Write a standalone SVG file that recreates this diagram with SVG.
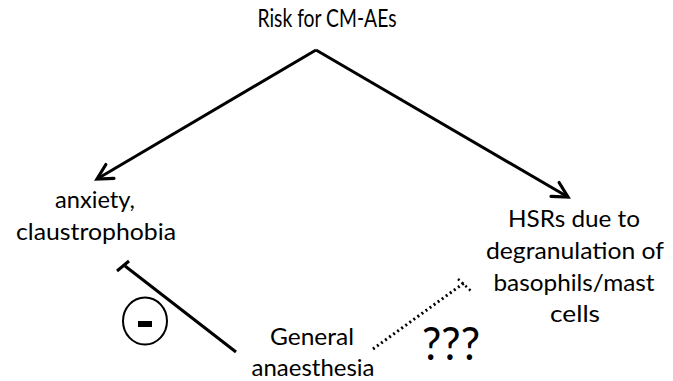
<svg xmlns="http://www.w3.org/2000/svg" width="673" height="381" viewBox="0 0 673 381">
<style>
text{font-family:Lato,"Liberation Sans",Arial,sans-serif;font-size:24px;fill:#000;text-anchor:middle}
.ln{stroke:#000;stroke-width:3;fill:none}
</style>
<defs>
<marker id="arr" viewBox="0 0 20 20" refX="17" refY="10" markerWidth="20" markerHeight="20" markerUnits="userSpaceOnUse" orient="auto">
<path d="M2,2 L17,10 L2,18" fill="none" stroke="#000" stroke-width="3.2" stroke-linecap="round" stroke-linejoin="miter"/>
</marker>
</defs>
<rect width="673" height="381" fill="#fff"/>
<g id="risk"><text x="327" y="27" style="font-size:25px" textLength="139" lengthAdjust="spacingAndGlyphs">Risk for CM-AEs</text></g>
<g id="anxiety"><text x="95" y="208" textLength="80" lengthAdjust="spacingAndGlyphs">anxiety,</text><text x="96" y="240" textLength="160" lengthAdjust="spacingAndGlyphs">claustrophobia</text></g>
<g id="hsr"><text x="574" y="227" textLength="132" lengthAdjust="spacingAndGlyphs">HSRs due to</text><text x="575" y="259" textLength="178" lengthAdjust="spacingAndGlyphs">degranulation of</text><text x="574" y="291" textLength="161" lengthAdjust="spacingAndGlyphs">basophils/mast</text><text x="575" y="322" textLength="50" lengthAdjust="spacingAndGlyphs">cells</text></g>
<g id="ga"><text x="312" y="345" textLength="84" lengthAdjust="spacingAndGlyphs">General</text><text x="313" y="376" textLength="123" lengthAdjust="spacingAndGlyphs">anaesthesia</text></g>
<g id="minus"><ellipse cx="145" cy="321" rx="22" ry="23.5" fill="none" stroke="#000" stroke-width="2"/><rect x="138" y="321" width="14" height="6" fill="#000"/></g>
<g id="qqq"><text x="451" y="360" style="font-size:46px" textLength="58" lengthAdjust="spacingAndGlyphs">???</text></g>
<g id="connectors">
<path class="ln" d="M316,50 L97,179" marker-end="url(#arr)"/>
<path class="ln" d="M316,50 L568,197" marker-end="url(#arr)"/>
<path class="ln" d="M236,352 L125,266"/>
<path class="ln" d="M117,271 L129,261"/>
<path d="M373,349 L464,283" stroke="#000" stroke-width="3" stroke-dasharray="2,3" fill="none"/>
<path d="M458,279 L471,291" stroke="#000" stroke-width="2.5" stroke-dasharray="2,3" fill="none"/>
</g>
</svg>
